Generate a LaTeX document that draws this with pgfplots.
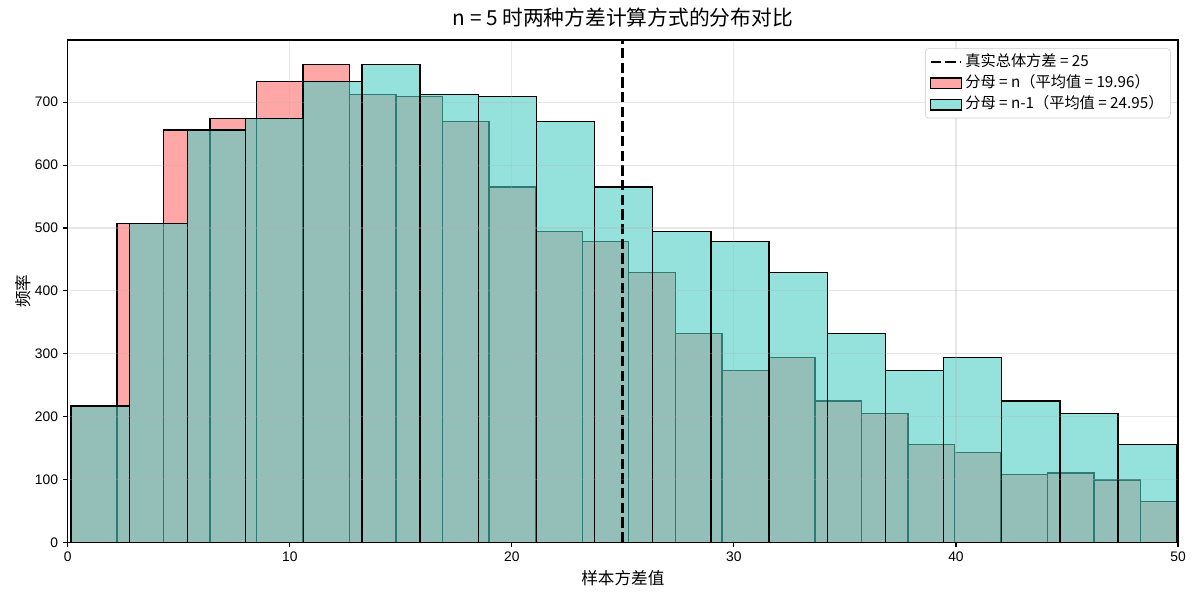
\documentclass[border=0pt]{standalone}
\usepackage{pgfplots}
\pgfplotsset{compat=1.18}
\usepackage{fontspec}
\setmainfont{Liberation Sans}
\newfontfamily\cjk{Noto Sans CJK SC}
\definecolor{redbar}{HTML}{FF6B6B}
\definecolor{tealbar}{HTML}{4ECDC4}
\definecolor{gridgray}{HTML}{B0B0B0}
\pgfplotsset{
  histpatch/.style={legend image code/.code={\draw[##1, sharp corners] (0pt,-3.85pt) rectangle (22pt,3.85pt);}},
  histline/.style={legend image code/.code={\draw[##1, sharp corners] (0pt,0pt) -- (22pt,0pt);}},
}
\begin{document}
\begin{tikzpicture}
\begin{axis}[
  at={(0pt,0pt)}, anchor=south west,
  scale only axis, width=802.4pt, height=363.0pt,
  xmin=0, xmax=50, ymin=0, ymax=799,
  xtick={0,10,...,50}, ytick={0,100,...,700},
  tick align=outside, tick pos=left,
  major tick length=3.5pt,
  every tick/.style={black, line width=0.8pt},
  axis line style={line width=0.8pt},
  grid=major, grid style={gridgray, draw opacity=0.3, line width=0.8pt},
  axis on top,
  /pgf/number format/assume math mode=true,
  ticklabel style={font=\fontsize{10}{12}\selectfont},
  title={\cjk n = 5 时两种方差计算方式的分布对比},
  title style={at={(axis description cs:0.5,1.0289)}, anchor=center, font=\fontsize{15}{18}\selectfont},
  xlabel={\cjk 样本方差值},
  xlabel style={at={(axis description cs:0.5,-0.0717)}, anchor=center, font=\fontsize{12}{14}\selectfont},
  ylabel={\cjk 频率},
  ylabel style={at={(axis description cs:-0.0405,0.5)}, anchor=center, font=\fontsize{12}{14}\selectfont},
  legend style={at={(axis description cs:0.9934,0.9835)}, anchor=north east,
    draw=black!20, rounded corners=2.5pt, fill=white,
    font=\cjk\fontsize{11}{13}\selectfont, inner xsep=3pt, inner ysep=2pt,
    nodes={inner ysep=2.2pt, text height=8.5pt, text depth=2.5pt}},
  legend cell align=left,
]
\addlegendimage{black, line width=2pt, dash pattern=on 7.4pt off 3.2pt, histline}
\addlegendentry{真实总体方差 = 25}

% denominator n
\addplot[ybar interval, fill=redbar, fill opacity=0.6, draw=black, line width=1pt, histpatch]
coordinates {(0.12,217) (2.216,507) (4.311,656) (6.407,674) (8.502,733) (10.598,760)
 (12.694,712) (14.789,709) (16.885,669) (18.980,565) (21.076,494) (23.172,478)
 (25.267,429) (27.363,332) (29.458,273) (31.554,294) (33.650,225) (35.745,205)
 (37.841,156) (39.936,143) (42.032,108) (44.128,110) (46.223,99) (48.319,65) (50.414,0)};
\addlegendentry{分母 = n（平均值 = 19.96）}

% denominator n-1
\addplot[ybar interval, fill=tealbar, fill opacity=0.6, draw=black, line width=1pt, histpatch]
coordinates {(0.15,217) (2.770,507) (5.389,656) (8.009,674) (10.628,733) (13.248,760)
 (15.867,712) (18.487,709) (21.106,669) (23.726,565) (26.345,494) (28.965,478)
 (31.584,429) (34.204,332) (36.823,273) (39.443,294) (42.062,225) (44.682,205)
 (47.301,156) (49.921,143) (52.540,0)};
\addlegendentry{分母 = n-1（平均值 = 24.95）}

\addplot[black, line width=2pt, dash pattern=on 7.4pt off 3.2pt, forget plot]
coordinates {(25,0) (25,799)};
\end{axis}
\pgfresetboundingbox
\path (-48.93pt,-41.7pt) rectangle (818.3pt,391.9pt);
\end{tikzpicture}
\end{document}
